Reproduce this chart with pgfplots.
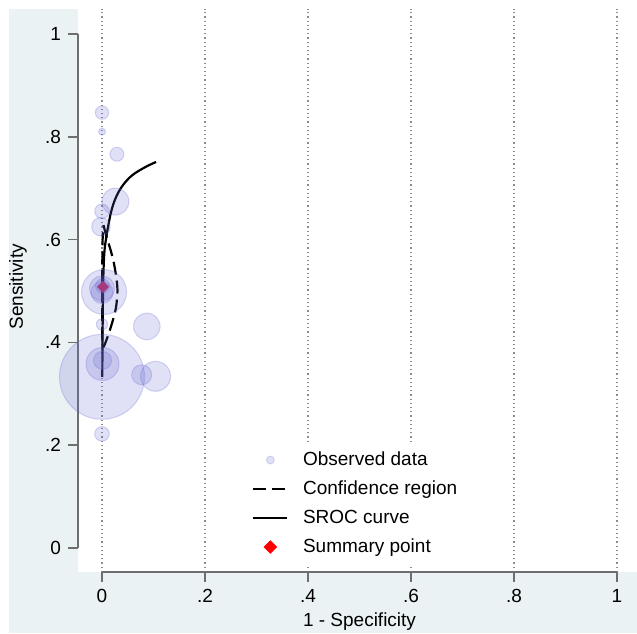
\documentclass[border=0pt]{standalone}
\usepackage{pgfplots}
\pgfplotsset{compat=1.18}
\usepackage{fontspec}
\setmainfont{Liberation Sans}
\definecolor{bgcol}{RGB}{234,242,243}
\definecolor{bub}{RGB}{100,100,210}
\definecolor{axgray}{RGB}{110,110,110}
\definecolor{gridgray}{RGB}{140,140,140}
\newcommand{\fs}{\fontsize{9.5}{11.4}\selectfont}

\begin{document}
\begin{tikzpicture}
\useasboundingbox (0,0) rectangle (318.5pt,316.5pt);
\fill[bgcol] (4.5pt,0pt) rectangle (318.5pt,312pt);
\begin{axis}[
  at={(39pt,30.5pt)}, anchor=south west,
  scale only axis, width=279.5pt, height=281.5pt,
  xmin=-0.0466, xmax=1.0388, ymin=-0.0467, ymax=1.0486,
  axis background/.style={fill=white},
  axis line style={draw=none},
  clip=false,
  xtick={0,0.2,0.4,0.6,0.8,1}, xticklabels={0,.2,.4,.6,.8,1},
  ytick={0,0.2,0.4,0.6,0.8,1}, yticklabels={0,.2,.4,.6,.8,1},
  xtick pos=bottom, ytick pos=left,
  tick align=outside, major tick length=5pt,
  tick style={axgray, line width=0.75pt},
  xmajorgrids,
  major x grid style={gridgray, line width=0.6pt, dash pattern=on 0.6pt off 1.5pt},
  tick label style={font=\fs},
  /pgf/number format/assume math mode=true,
  xlabel={1 - Specificity},
  xlabel style={font=\fs, at={(axis cs:0.5,-0.144)}, anchor=center},
  ylabel={Sensitivity},
  ylabel style={font=\fs, at={(axis cs:-0.163,0.508)}, anchor=center},
  legend cell align=left,
  legend style={at={(axis cs:0.287,0.204)}, anchor=north west, draw=none, fill=white,
    inner sep=1pt, font=\fs, row sep=0pt,
    /tikz/every odd column/.append style={column sep=4.5pt},
    nodes={text height=7pt, text depth=2pt, inner sep=2.75pt}},
]
\addlegendimage{only marks, mark=*, mark size=2pt, mark options={fill=bub, fill opacity=0.2, draw=bub, draw opacity=0.25}}
\addlegendentry{Observed data}
\addlegendimage{black, line width=1.1pt, dash pattern=on 6.5pt off 3pt}
\addlegendentry{Confidence region}
\addlegendimage{black, line width=1.1pt}
\addlegendentry{SROC curve}
\addlegendimage{only marks, mark=square*, mark size=2.2pt, mark options={rotate=45, fill=red, draw=red}}
\addlegendentry{Summary point}

% confidence region
\addplot[forget plot, black, line width=1.1pt, dash pattern=on 6.5pt off 3pt, smooth] coordinates {
(0.0030,0.628) (0.0070,0.612) (0.0120,0.595) (0.0175,0.577) (0.0235,0.552)
(0.0280,0.525) (0.0300,0.500) (0.0275,0.470) (0.0225,0.448) (0.0150,0.423)
(0.0080,0.403) (0.0040,0.393) (0.0015,0.391) (0.0008,0.400) (0.0005,0.430)
(0.0004,0.480) (0.0005,0.530) (0.0008,0.575) (0.0015,0.610) (0.0030,0.628)
};
% SROC curve
\addplot[forget plot, black, line width=1.1pt, smooth, tension=0.6] coordinates {
(0.0006,0.333) (0.0010,0.400) (0.0014,0.450) (0.0022,0.510) (0.0033,0.550)
(0.0050,0.580) (0.0082,0.604) (0.0120,0.626) (0.0182,0.656) (0.0270,0.682)
(0.0400,0.705) (0.0585,0.725) (0.0840,0.741) (0.1050,0.751)
};
% summary point
\addplot[forget plot, only marks, mark=square*, mark size=1.9pt, mark options={rotate=45, fill=red, draw=red}] coordinates {(0.002,0.508)};

% observed data (r = bubble radius in pt)
\addplot[forget plot, scatter, only marks, mark=*,
  scatter/use mapped color={draw=bub, fill=bub},
  mark options={fill opacity=0.2, draw opacity=0.25, line width=0.5pt},
  visualization depends on={\thisrow{r} \as \rr},
  scatter/@pre marker code/.append style={/tikz/mark size=\rr pt}]
table {
x y r
0.000 0.847 3.35
0.000 0.810 1.75
0.029 0.766 3.5
0.026 0.674 6.75
0.000 0.655 3.65
-0.002 0.625 4.65
0.004 0.498 11.25
0.000 0.505 6.25
0.000 0.497 5.5
0.001 0.510 3.5
0.000 0.435 2.85
0.087 0.431 6.65
0.001 0.358 8.25
0.001 0.365 4.5
0.000 0.333 21.25
0.077 0.337 5.0
0.104 0.334 7.5
0.000 0.222 3.65
};

\draw[axgray, line width=0.75pt] (axis cs:-0.0466,0) -- (axis cs:-0.0466,1);
\draw[axgray, line width=0.75pt] (axis cs:0,-0.0467) -- (axis cs:1,-0.0467);
\end{axis}
\end{tikzpicture}
\end{document}
